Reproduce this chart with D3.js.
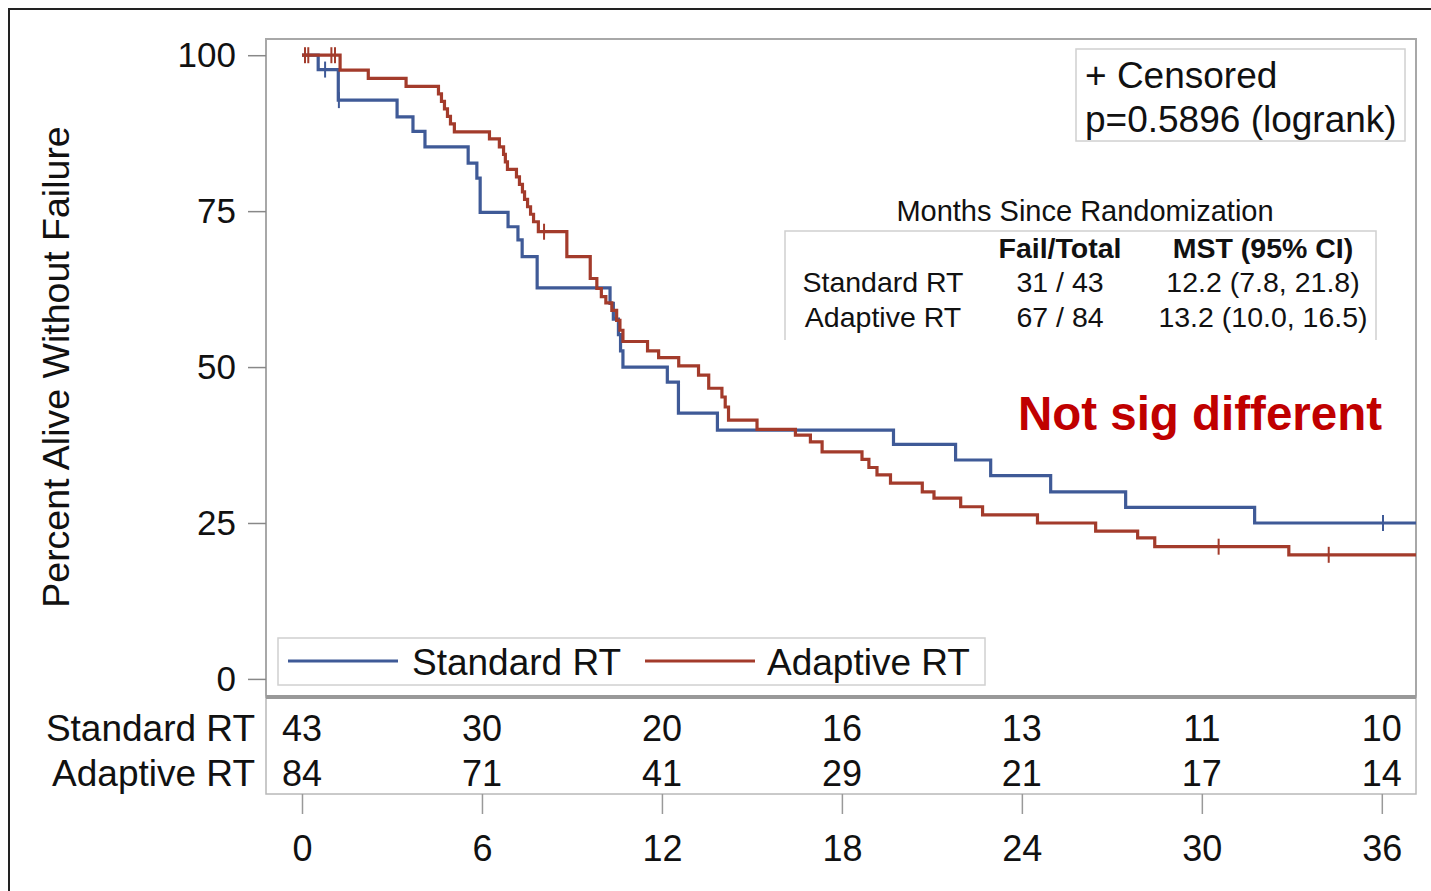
<!DOCTYPE html>
<html>
<head>
<meta charset="utf-8">
<script src="https://cdn.jsdelivr.net/npm/d3@7"></script>
<style>
  body { margin: 0; background: #fff; }
  svg { display: block; }
  text { font-family: "Liberation Sans", Arial, sans-serif; fill: #111; }
</style>
</head>
<body>
<svg id="chart" width="1431" height="891"></svg>
<script>
// ---------- data ----------
const stdTimes = [0, 0.54, 1.21, 3.17, 3.70, 4.10, 5.54, 5.83, 5.94, 6.87, 7.20, 7.34, 7.84, 10.27, 10.38, 10.55, 10.62, 10.70, 12.18, 12.55, 13.85, 19.72, 21.79, 22.96, 24.96, 27.46, 31.76, 37.14];
const stdSurv  = [100, 97.7, 92.8, 90.1, 87.8, 85.3, 82.7, 80.3, 74.8, 72.5, 70.4, 67.7, 62.7, 60.2, 57.7, 55.2, 52.6, 50.0, 47.6, 42.6, 39.9, 37.6, 35.1, 32.6, 30.0, 27.5, 25.0, 25.0];
const stdCensor = [0.77, 1.23, 36.04];

const adaTimes = [0, 1.27, 2.21, 3.47, 4.55, 4.65, 4.75, 4.85, 4.95, 5.08, 6.25, 6.58, 6.72, 6.78, 6.85, 7.15, 7.25, 7.35, 7.42, 7.52, 7.62, 7.72, 7.88, 8.83, 9.61, 9.83, 9.98, 10.13, 10.33, 10.49, 10.60, 10.70, 11.52, 11.89, 12.56, 13.22, 13.56, 14.00, 14.11, 14.22, 15.17, 16.45, 16.95, 17.34, 18.67, 18.90, 19.17, 19.62, 20.68, 21.07, 21.96, 22.69, 24.52, 26.46, 27.86, 28.43, 32.90, 37.14];
const adaSurv  = [100, 97.6, 96.3, 95.0, 93.8, 92.6, 91.4, 90.2, 89.0, 87.7, 86.6, 85.3, 84.1, 82.9, 81.7, 80.5, 79.3, 78.1, 76.9, 75.7, 74.5, 73.3, 71.7, 67.7, 64.2, 62.6, 61.3, 60.3, 59.1, 57.5, 55.9, 54.1, 52.6, 51.5, 50.2, 48.7, 46.6, 45.2, 43.6, 41.5, 40.0, 39.1, 38.0, 36.4, 35.2, 33.9, 32.7, 31.4, 30.0, 29.0, 27.6, 26.3, 25.0, 23.7, 22.6, 21.2, 19.9, 19.9];
const adaCensor = [0.10, 0.21, 0.98, 1.10, 8.07, 30.56, 34.23];

const groups = ["Standard RT", "Adaptive RT"];
const yTicks = [0, 25, 50, 75, 100];
const riskTimes = [0, 6, 12, 18, 24, 30, 36];
const stdRisk = [43, 30, 20, 16, 13, 11, 10];
const adaRisk = [84, 71, 41, 29, 21, 17, 14];

const tableTitle = "Months Since Randomization";
const tableHeader = ["Fail/Total", "MST (95% CI)"];
const tableFail = ["31 / 43", "67 / 84"];
const tableMST = ["12.2 (7.8, 21.8)", "13.2 (10.0, 16.5)"];

// ---------- layout ----------
const BLUE = "#3f5a97", RED = "#a33b2b", FRAME = "#a8a8a8";
const svg = d3.select("#chart");
const L = 266, R = 1416, T = 39, B = 697, RB = 794;

const x = d3.scaleLinear().domain([-1.2, 37.14]).range([L, R]);
const y = d3.scaleLinear().domain([-2.9, 102.6]).range([B, T]);

// outer frame
svg.append("path").attr("d", `M9,891 V9 H1431`).attr("fill", "none")
  .attr("stroke", "#222").attr("stroke-width", 2);

// plot frame
svg.append("rect").attr("x", L).attr("y", T).attr("width", R - L).attr("height", B - T)
  .attr("fill", "none").attr("stroke", FRAME).attr("stroke-width", 2);
// at-risk box
svg.append("rect").attr("x", L).attr("y", B).attr("width", R - L).attr("height", RB - B)
  .attr("fill", "none").attr("stroke", "#b8b8b8").attr("stroke-width", 1.5);
svg.append("line").attr("x1", L).attr("x2", R).attr("y1", B).attr("y2", B)
  .attr("stroke", "#999").attr("stroke-width", 4);

// y axis
const yAxis = svg.append("g").attr("transform", `translate(${L},0)`)
  .call(d3.axisLeft(y).tickValues(yTicks).tickSize(18).tickPadding(12));
yAxis.select(".domain").remove();
yAxis.selectAll(".tick line").attr("stroke", "#888").attr("stroke-width", 1.5);
yAxis.selectAll(".tick text").attr("font-size", 35).attr("fill", "#111")
  .attr("font-family", "Liberation Sans, Arial, sans-serif");

// y label
svg.append("text").attr("transform", "translate(69,367) rotate(-90)")
  .attr("text-anchor", "middle").attr("font-size", 37.5).text("Percent Alive Without Failure");

// x axis under at-risk table
const xAxis = svg.append("g").attr("transform", `translate(0,${RB})`)
  .call(d3.axisBottom(x).tickValues(riskTimes).tickSize(20).tickPadding(21));
xAxis.select(".domain").remove();
xAxis.selectAll(".tick line").attr("stroke", "#999").attr("stroke-width", 1.5);
xAxis.selectAll(".tick text").attr("font-size", 36).attr("fill", "#111")
  .attr("font-family", "Liberation Sans, Arial, sans-serif");

// curves
const line = d3.line().x(d => x(d[0])).y(d => y(d[1])).curve(d3.curveStepAfter);
function stepVal(times, surv, t) {
  let v = surv[0];
  for (let i = 0; i < times.length; i++) if (times[i] <= t) v = surv[i];
  return v;
}
const series = [
  { times: stdTimes, surv: stdSurv, cens: stdCensor, color: BLUE },
  { times: adaTimes, surv: adaSurv, cens: adaCensor, color: RED }
];
series.forEach(s => {
  const pts = s.times.map((t, i) => [t, s.surv[i]]);
  svg.append("path").datum(pts).attr("d", line).attr("fill", "none")
    .attr("stroke", s.color).attr("stroke-width", 3.2);
  svg.append("g").selectAll("line").data(s.cens).join("line")
    .attr("x1", d => x(d)).attr("x2", d => x(d))
    .attr("y1", d => y(stepVal(s.times, s.surv, d)) - 8)
    .attr("y2", d => y(stepVal(s.times, s.surv, d)) + 8)
    .attr("stroke", s.color).attr("stroke-width", 2);
});

// censored / p-value box
svg.append("rect").attr("x", 1076).attr("y", 49).attr("width", 329).attr("height", 92)
  .attr("fill", "none").attr("stroke", "#d0d0d0").attr("stroke-width", 1.5);
svg.append("text").attr("x", 1085).attr("y", 88).attr("font-size", 37).text("+ Censored");
svg.append("text").attr("x", 1085).attr("y", 132).attr("font-size", 37).text("p=0.5896 (logrank)");

// stats table
svg.append("text").attr("x", 1085).attr("y", 221).attr("text-anchor", "middle")
  .attr("font-size", 29).text(tableTitle);
svg.append("path").attr("d", "M785,340 V231 H1376 V340").attr("fill", "none")
  .attr("stroke", "#d0d0d0").attr("stroke-width", 1.5);
const colX = [1060, 1263];
tableHeader.forEach((h, i) => {
  svg.append("text").attr("x", colX[i]).attr("y", 258).attr("text-anchor", "middle")
    .attr("font-size", 28.5).attr("font-weight", "bold").text(h);
});
groups.forEach((g, i) => {
  const yy = 292 + i * 35;
  svg.append("text").attr("x", 883).attr("y", yy).attr("text-anchor", "middle").attr("font-size", 28.5).text(g);
  svg.append("text").attr("x", colX[0]).attr("y", yy).attr("text-anchor", "middle").attr("font-size", 28.5).text(tableFail[i]);
  svg.append("text").attr("x", colX[1]).attr("y", yy).attr("text-anchor", "middle").attr("font-size", 28.5).text(tableMST[i]);
});

// annotation
svg.append("text").attr("x", 1200).attr("y", 430).attr("text-anchor", "middle")
  .attr("font-size", 47.5).attr("font-weight", "bold").style("fill", "#c00000")
  .text("Not sig different");

// legend
svg.append("rect").attr("x", 278).attr("y", 638).attr("width", 707).attr("height", 47)
  .attr("fill", "#fff").attr("stroke", "#d0d0d0").attr("stroke-width", 1.5);
const legItems = [
  { name: groups[0], color: BLUE, x1: 288, tx: 412 },
  { name: groups[1], color: RED, x1: 645, tx: 767 }
];
legItems.forEach(li => {
  svg.append("line").attr("x1", li.x1).attr("x2", li.x1 + 110).attr("y1", 661).attr("y2", 661)
    .attr("stroke", li.color).attr("stroke-width", 3);
  svg.append("text").attr("x", li.tx).attr("y", 675).attr("font-size", 37).text(li.name);
});

// at-risk table
[stdRisk, adaRisk].forEach((arr, r) => {
  const yy = 741 + r * 45;
  svg.append("text").attr("x", 255).attr("y", yy).attr("text-anchor", "end")
    .attr("font-size", 37).text(groups[r]);
  svg.append("g").selectAll("text").data(arr).join("text")
    .attr("x", (d, i) => x(riskTimes[i])).attr("y", yy).attr("text-anchor", "middle")
    .attr("font-size", 36).text(d => d);
});
</script>
</body>
</html>
